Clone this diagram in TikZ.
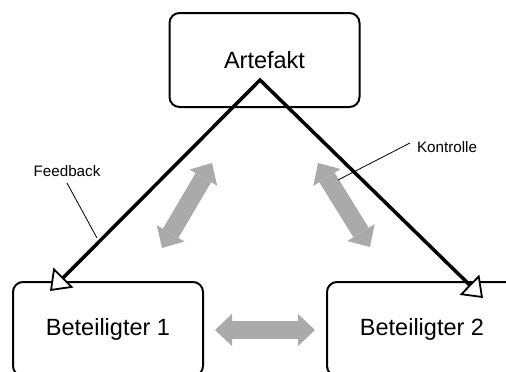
\documentclass[tikz,border=0pt]{standalone}
\usepackage{fontspec}
\setmainfont{Liberation Sans}
\usetikzlibrary{arrows.meta}
\definecolor{arrowgray}{RGB}{170,170,170}
\begin{document}
\begin{tikzpicture}[x=1pt,y=-1pt,
  box/.style={draw=black, line width=2pt, rounded corners=10pt, fill=white,
    minimum width=190pt, minimum height=94pt, inner sep=0pt,
    font=\fontsize{23.5}{28}\selectfont},
  lbl/.style={inner sep=1pt, font=\fontsize{15.2}{18}\selectfont},
  leader/.style={draw=black, line width=0.8pt},
  flow/.style={draw=black, line width=3.5pt, line join=miter,
    {Triangle[fill=white, length=19pt, width=28pt, line width=1.8pt]}-{Triangle[fill=white, length=19pt, width=28pt, line width=1.8pt]}},
  exchange/.style={draw=arrowgray, line width=18pt,
    {Triangle[length=17pt, width=32pt, line width=0pt]}-{Triangle[length=17pt, width=32pt, line width=0pt]}}]
  \useasboundingbox (0,0) rectangle (506,372);
  \clip (0,0) rectangle (506,372);

  % the three parties
  \node[box] (art) at (264.5,60) {Artefakt};
  \node[box] (b1) at (108,329) {Beteiligter 1};
  \node[box] (b2) at (422,329) {Beteiligter 2};

  % mutual exchange between the parties
  \coordinate (e1a) at (162,248);
  \coordinate (e1b) at (212,163);
  \coordinate (e2a) at (318,163);
  \coordinate (e2b) at (370,247);
  \coordinate (e3a) at (215,330);
  \coordinate (e3b) at (315,330);
  \draw[exchange] (e1a) -- (e1b);
  \draw[exchange] (e2a) -- (e2b);
  \draw[exchange] (e3a) -- (e3b);

  % feedback and control paths through the artefact
  \coordinate (apex) at (260,80);
  \coordinate (fbtip) at (50,291);
  \coordinate (kttip) at (483,298);
  \draw[flow] (fbtip) -- (apex) -- (kttip);

  % labels with leader lines
  \node[lbl, anchor=base] (fbl) at (67,176) {Feedback};
  \node[lbl, anchor=base] (ktl) at (447,152) {Kontrolle};
  \coordinate (fbs) at (67,183);
  \coordinate (fbe) at (97,238);
  \coordinate (kts) at (410,143);
  \coordinate (kte) at (338,180);
  \draw[leader] (fbs) -- (fbe);
  \draw[leader] (kts) -- (kte);
\end{tikzpicture}
\end{document}
